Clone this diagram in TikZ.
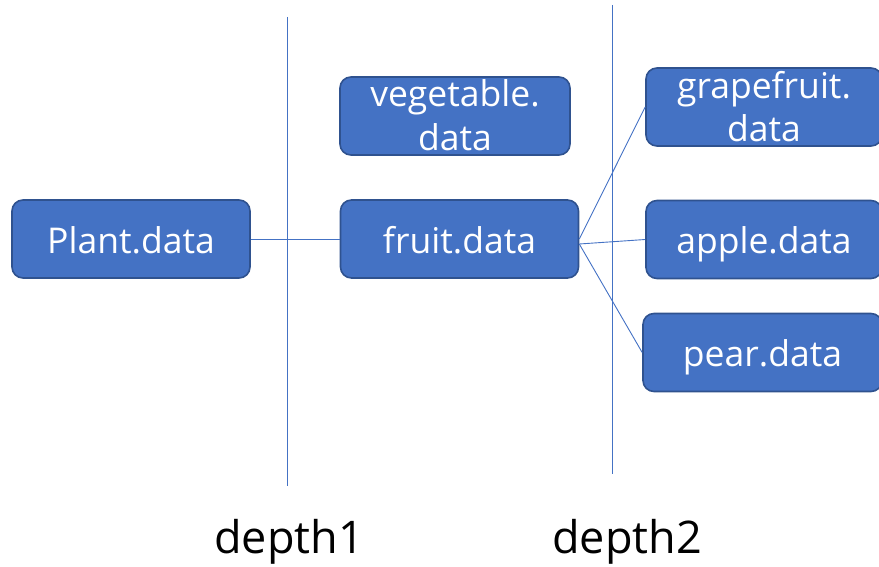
\documentclass[tikz,border=0pt]{standalone}
\usepackage{fontspec}
\setmainfont{Open Sans}
\definecolor{boxfill}{HTML}{4472C4}
\definecolor{boxedge}{HTML}{2F528F}
\definecolor{linkblue}{HTML}{4472C4}
\begin{document}
\begin{tikzpicture}[x=1pt,y=-1pt,
  box/.style={draw=boxedge, line width=1.6pt, fill=boxfill, rounded corners=11pt,
    minimum width=#1, minimum height=78pt, inner sep=0pt, text=white,
    text height=28pt, text depth=0pt,
    font=\fontsize{35.5}{43}\selectfont},
  box/.default=238pt,
  txt/.style={text=white, inner sep=0pt, align=center,
    font=\fontsize{35.5}{43.5}\selectfont},
  link/.style={draw=linkblue, line width=0.9pt},
  axis/.style={draw=linkblue, line width=0.9pt},
  depthlabel/.style={inner sep=0pt, anchor=base, font=\fontsize{45}{53}\selectfont}]
  \useasboundingbox (0,0) rectangle (879,567);

  % depth separators
  \coordinate (s1top) at (287,17);
  \coordinate (s1bot) at (287,486);
  \coordinate (s2top) at (612,5);
  \coordinate (s2bot) at (612,474);
  \draw[axis] (s1top) -- (s1bot);
  \draw[axis] (s2top) -- (s2bot);

  % data boxes
  \node[box] (plant) at (131,239) {Plant.data};
  \node[box] (fruit) at (459.5,239) {fruit.data};
  \node[box=230pt] (veg) at (455,116) {};
  \node[txt] (vegt) at (455,115) {vegetable.\\data};
  \node[box=236pt] (grape) at (764,107) {};
  \node[txt] (grapet) at (764,106.5) {grapefruit.\\data};
  \node[box=236pt] (apple) at (764,239.5) {apple.data};
  \node[box=239pt] (pear) at (762.5,352.5) {pear.data};

  % links
  \draw[link] (plant.east) -- (fruit.west);
  \draw[link] (fruit.east) -- (grape.west);
  \draw[link] ([yshift=-5pt]fruit.east) -- (apple.west);
  \draw[link] ([yshift=-5pt]fruit.east) -- (pear.west);

  % depth labels
  \node[depthlabel] (d1) at (289,553) {depth1};
  \node[depthlabel] (d2) at (627,553) {depth2};
\end{tikzpicture}
\end{document}
